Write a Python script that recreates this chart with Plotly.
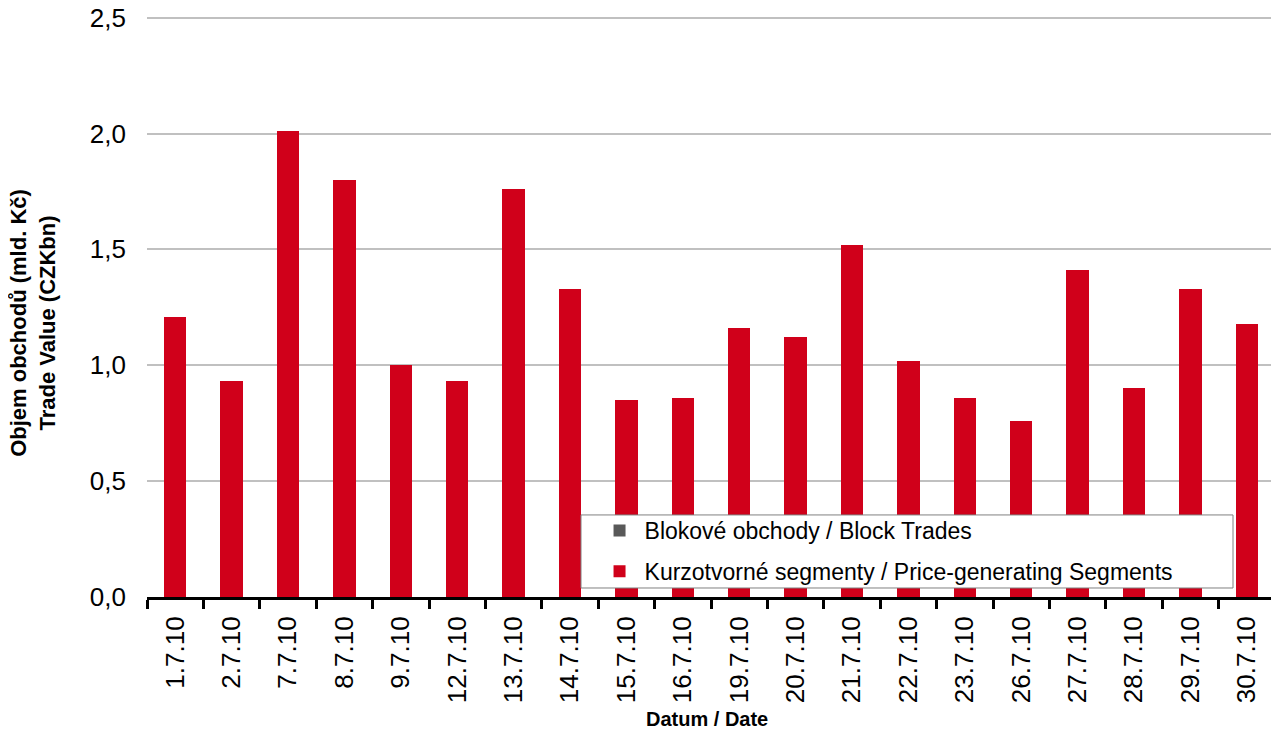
import plotly.graph_objects as go

dates = ["1.7.10", "2.7.10", "7.7.10", "8.7.10", "9.7.10", "12.7.10", "13.7.10",
         "14.7.10", "15.7.10", "16.7.10", "19.7.10", "20.7.10", "21.7.10", "22.7.10",
         "23.7.10", "26.7.10", "27.7.10", "28.7.10", "29.7.10", "30.7.10"]
price_generating = [1.21, 0.93, 2.01, 1.80, 1.00, 0.93, 1.76, 1.33, 0.85, 0.86,
                    1.16, 1.12, 1.52, 1.02, 0.86, 0.76, 1.41, 0.90, 1.33, 1.18]
block_trades = [0.0] * 20

name_block = "Blokové obchody / Block Trades"
name_price = "Kurzotvorné segmenty / Price-generating Segments"

W, H = 1279, 737
OFF = 8  # page body margin offset
YMAX = 2.52
# desired plot area in screen pixels
L, R, B = 147, 1275, 597
T = B - (B - 18) * YMAX / 2.5


def px(x):
    return (x - L) / (R - L)


def py(y):
    return (B - y) / (B - T)


fig = go.Figure()
fig.add_trace(go.Bar(x=dates, y=price_generating, name=name_price,
                     marker=dict(color="#d0001a", line=dict(width=0)),
                     legendgroup="b", legendrank=2))
fig.add_trace(go.Bar(x=dates, y=block_trades, name=name_block,
                     marker=dict(color="#595959", line=dict(width=0)),
                     legendgroup="a", legendrank=1))

# legend box drawn as a shape (white, grey border)
fig.add_shape(type="rect", xref="paper", yref="paper",
              x0=px(581), x1=px(1233), y0=py(588), y1=py(515),
              fillcolor="white", line=dict(color="#808080", width=1), layer="above")

fig.add_annotation(text="<b>Objem obchodů (mld. Kč)<br>Trade Value (CZKbn)</b>",
                   xref="paper", yref="paper", x=px(33), y=py(323),
                   xanchor="center", yanchor="middle", textangle=-90, showarrow=False,
                   font=dict(size=22, color="black"))
fig.add_annotation(text="<b>Datum / Date</b>",
                   xref="paper", yref="paper", x=px(707), y=py(719),
                   xanchor="center", yanchor="middle", showarrow=False,
                   font=dict(size=20, color="black"))

fig.update_layout(
    width=W, height=H,
    margin=dict(l=L - OFF, r=W - (R - OFF), t=T - OFF, b=H - (B - OFF), autoexpand=False),
    paper_bgcolor="white", plot_bgcolor="white",
    barmode="stack", bargap=0.6,
    separators=", ",
    font=dict(family="Liberation Sans, Arial, sans-serif", color="black"),
    showlegend=True,
    legend=dict(
        x=px(581) + 0.012, y=py(509), xanchor="left", yanchor="top",
        bgcolor="rgba(0,0,0,0)", borderwidth=0,
        font=dict(size=23, color="black"),
        traceorder="grouped", tracegroupgap=8,
        itemwidth=40,
    ),
    xaxis=dict(
        type="category", automargin=False,
        showline=True, linecolor="black", linewidth=3,
        ticks="outside", tickson="boundaries", ticklen=9, tickwidth=3, tickcolor="black",
        tickangle=-90, tickfont=dict(size=26),
        ticklabelstandoff=6,
        showgrid=False,
    ),
    yaxis=dict(
        range=[0, YMAX], tickvals=[0, 0.5, 1.0, 1.5, 2.0, 2.5], tickformat=".1f",
        automargin=False, ticklabeloverflow="allow",
        showgrid=True, gridcolor="#c0c0c0", gridwidth=2,
        zeroline=False, showline=False, ticks="",
        ticklabelstandoff=20,
        tickfont=dict(size=26),
    ),
)

fig.write_html("out.html")
